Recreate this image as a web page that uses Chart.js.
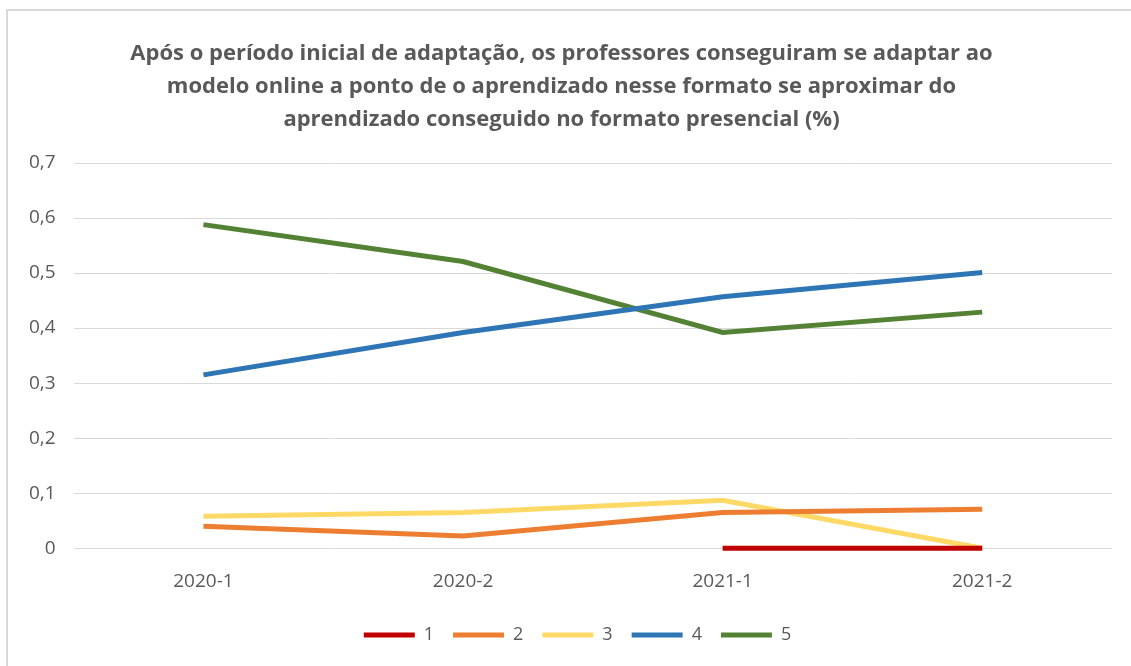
<!DOCTYPE html>
<html>
<head>
<meta charset="utf-8">
<script src="https://cdn.jsdelivr.net/npm/chart.js@4.4.1/dist/chart.umd.min.js"></script>
<style>
  html, body { margin: 0; padding: 0; background: #fff; overflow: hidden; }
  #frame { position: absolute; left: 6px; top: 9px; width: 1200px; height: 700px;
           border-left: 2px solid #d9d9d9; border-top: 2px solid #d9d9d9; }
  #chart { position: absolute; left: 0; top: 0; }
</style>
</head>
<body>
<div id="frame"></div>
<canvas id="chart" width="1131" height="666"></canvas>
<script>
    "use strict";

    // Data
    var periods = ["2020-1", "2020-2", "2021-1", "2021-2"];
    var s1 = [null, null, 0, 0];
    var s2 = [0.040, 0.022, 0.065, 0.071];
    var s3 = [0.058, 0.065, 0.087, 0];
    var s4 = [0.315, 0.392, 0.457, 0.501];
    var s5 = [0.588, 0.521, 0.392, 0.429];
    var seriesNames = ["1", "2", "3", "4", "5"];
    var colors = ["#c00000", "#ed7d31", "#ffd966", "#2e75b6", "#548235"];
    var titleLines = [
        "Após o período inicial de adaptação, os professores conseguiram se adaptar ao",
        "modelo online a ponto de o aprendizado nesse formato se aproximar do",
        "aprendizado conseguido no formato presencial (%)"
    ];

    var fontFamily = "'Open Sans', 'Liberation Sans', sans-serif";
    var allSeries = [s1, s2, s3, s4, s5];
    var datasets = allSeries.map(function (d, i) {
        return {
            label: seriesNames[i],
            data: d,
            borderColor: colors[i],
            backgroundColor: colors[i],
            borderWidth: 5,
            pointRadius: 0,
            tension: 0,
            spanGaps: false,
            clip: false
        };
    });

    // nudge the legend a little to the right, like in the original
    var legendShift = {
        id: "legendShift",
        afterLayout: function (chart) {
            chart.legend.left += 16;
            chart.legend.right += 16;
        }
    };

    var ctx = document.getElementById("chart").getContext("2d");
    var myChart = new Chart(ctx, {
        type: "line",
        data: { labels: periods, datasets: datasets },
        plugins: [legendShift],
        options: {
            responsive: false,
            animation: false,
            layout: { padding: { left: 11, right: 19, top: 20, bottom: 12 } },
            plugins: {
                title: {
                    display: true,
                    text: titleLines,
                    color: "#595959",
                    font: { family: fontFamily, size: 22, weight: "bold", lineHeight: 1.5 },
                    padding: { top: 17, bottom: 27 }
                },
                legend: {
                    position: "bottom",
                    labels: {
                        color: "#595959",
                        font: { family: fontFamily, size: 18 },
                        boxWidth: 51,
                        boxHeight: 5,
                        padding: 19,
                        generateLabels: function (chart) {
                            return Chart.defaults.plugins.legend.labels.generateLabels(chart).map(function (l) {
                                l.lineWidth = 0;
                                return l;
                            });
                        }
                    }
                },
                tooltip: { enabled: false }
            },
            scales: {
                x: {
                    offset: true,
                    grid: { display: false },
                    border: { display: false },
                    ticks: {
                        color: "#595959",
                        padding: 14,
                        font: { family: fontFamily, size: 19 }
                    }
                },
                y: {
                    min: 0,
                    max: 0.7,
                    grid: { color: "#d9d9d9", lineWidth: 1, drawTicks: false },
                    border: { display: false },
                    ticks: {
                        stepSize: 0.1,
                        color: "#595959",
                        padding: 18,
                        font: { family: fontFamily, size: 19 },
                        callback: function (v) {
                            return v === 0 ? "0" : v.toFixed(1).replace(".", ",");
                        }
                    }
                }
            }
        }
    });
</script>
</body>
</html>
